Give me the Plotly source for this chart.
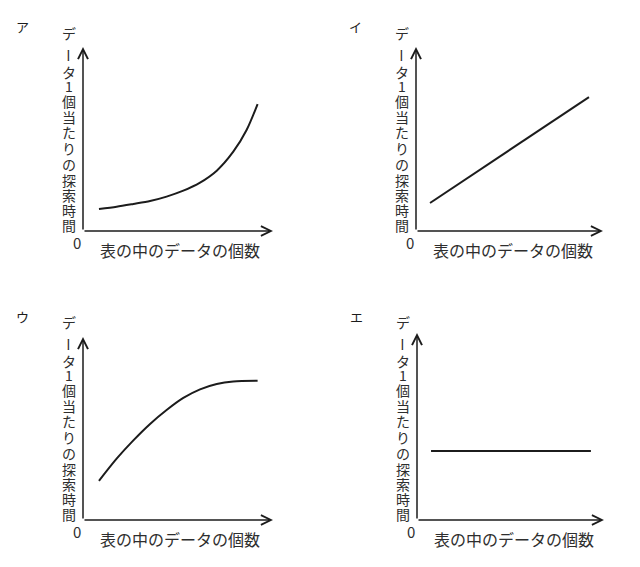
import plotly.graph_objects as go

# ---------------- data (abstract units, axes run 0..10) ----------------
panel_labels = ["ア", "イ", "ウ", "エ"]
y_title = "データ1個当たりの探索時間"
x_title = "表の中のデータの個数"
origin_label = "0"

a_x = [0.84, 1.77, 2.65, 3.53, 4.40, 5.28, 6.16, 7.04, 7.91, 8.61, 9.19]
a_y = [1.20, 1.32, 1.47, 1.63, 1.87, 2.19, 2.63, 3.28, 4.31, 5.49, 6.90]

i_x = [0.75, 9.25]
i_y = [1.52, 7.28]

u_x = [0.84, 1.77, 2.65, 3.53, 4.40, 5.28, 6.16, 7.04, 7.91, 9.19]
u_y = [2.14, 3.35, 4.35, 5.25, 6.01, 6.67, 7.14, 7.43, 7.57, 7.61]

e_x = [0.75, 9.30]
e_y = [3.69, 3.69]

series_x = [a_x, i_x, u_x, e_x]
series_y = [a_y, i_y, u_y, e_y]

# ---------------- layout geometry ----------------
PAGE_W, PAGE_H = 640, 567
BODY = 8                      # default page body margin
W, H = PAGE_W - 2 * BODY, PAGE_H - 2 * BODY

# origin (page px) and px per unit
geo = [
    dict(ox=83, oy=231, sx=19.0, sy=18.4),
    dict(ox=416, oy=231, sx=18.7, sy=18.4),
    dict(ox=83, oy=520, sx=19.0, sy=18.3),
    dict(ox=417, oy=520, sx=18.7, sy=18.7),
]
XMIN, XMAX, YMIN, YMAX = -1.5, 11.0, -1.5, 11.0
AX_TIP = 10.0

# centres of the stacked title characters, px above the origin
char_offsets = [198, 176, 159, 145, 130, 114, 99, 83, 67, 51, 36, 21, 6]

def px(x):
    return (x - BODY) / W

def py(y):
    return 1 - (y - BODY) / H

ink = "#1c1c1c"
text_col = "#2e2e2e"
font_family = "Noto Sans CJK JP"

fig = go.Figure()
annotations = []
layout_axes = {}

for i, g in enumerate(geo):
    n = "" if i == 0 else str(i + 1)
    xa, ya = "x" + n, "y" + n
    ox, oy, sx, sy = g["ox"], g["oy"], g["sx"], g["sy"]
    xd = [px(ox + XMIN * sx), px(ox + XMAX * sx)]
    yd = [py(oy - YMIN * sy), py(oy - YMAX * sy)]
    layout_axes["xaxis" + n] = dict(domain=xd, range=[XMIN, XMAX], anchor=ya,
                                     visible=False, fixedrange=True)
    layout_axes["yaxis" + n] = dict(domain=yd, range=[YMIN, YMAX], anchor=xa,
                                     visible=False, fixedrange=True)

    fig.add_trace(go.Scatter(x=series_x[i], y=series_y[i], mode="lines",
                             line=dict(color=ink, width=2, shape="spline", smoothing=0.8),
                             xaxis=xa, yaxis=ya, showlegend=False, hoverinfo="skip"))

    # axes arrows
    for (tx, ty) in [(AX_TIP, 0), (0, AX_TIP)]:
        annotations.append(dict(x=tx, y=ty, ax=0, ay=0, xref=xa, yref=ya,
                                axref=xa, ayref=ya, text="", showarrow=True,
                                arrowhead=5, arrowsize=1.3, arrowwidth=1.5,
                                arrowcolor=ink))

    # panel label
    annotations.append(dict(x=px(ox - 61), y=py(oy - 204), xref="paper", yref="paper",
                            text=panel_labels[i], showarrow=False,
                            font=dict(family=font_family, size=13, color=ink),
                            xanchor="center", yanchor="middle"))
    # origin 0
    annotations.append(dict(x=px(ox - 6), y=py(oy + 11), xref="paper", yref="paper",
                            text=origin_label, showarrow=False,
                            font=dict(family=font_family, size=15, color=text_col),
                            xanchor="center", yanchor="middle"))
    # x title
    annotations.append(dict(x=px(ox + 97), y=py(oy + 19), xref="paper", yref="paper",
                            text=x_title, showarrow=False,
                            font=dict(family=font_family, size=16, color=text_col),
                            xanchor="center", yanchor="middle"))
    # vertical y title, one character per annotation (long-vowel mark rotated as in vertical writing)
    for ch, off in zip(y_title, char_offsets):
        annotations.append(dict(x=px(ox - 14.5), y=py(oy - off), xref="paper", yref="paper",
                                text=ch, showarrow=False,
                                textangle=90 if ch == "ー" else 0,
                                font=dict(family=font_family, size=14, color=text_col),
                                xanchor="center", yanchor="middle"))

fig.update_layout(width=W, height=H, margin=dict(l=0, r=0, t=0, b=0),
                  paper_bgcolor="white", plot_bgcolor="white",
                  annotations=annotations, **layout_axes)

fig.write_html("out.html", config={"displayModeBar": False})
